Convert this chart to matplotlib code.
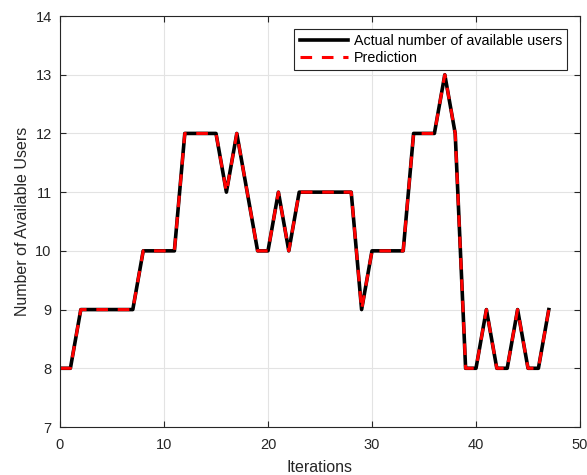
import numpy as np
import matplotlib.pyplot as plt

plt.rcParams['font.family'] = ['Liberation Sans', 'DejaVu Sans']

iterations = np.arange(0, 48)
actual = [8, 8, 9, 9, 9, 9, 9, 9, 10, 10, 10, 10, 12, 12, 12, 12,
          11, 12, 11, 10, 10, 11, 10, 11, 11, 11, 11, 11, 11, 9, 10, 10,
          10, 10, 12, 12, 12, 13, 12, 8, 8, 9, 8, 8, 9, 8, 8, 9]
prediction = list(actual)

fig = plt.figure(figsize=(5.87, 4.75), dpi=100)
ax = fig.add_axes([60 / 587, 48 / 475, 520 / 587, 411 / 475])

ax.plot(iterations, actual, color='k', lw=2.6, label='Actual number of available users')
ax.plot(iterations, prediction, color='r', lw=2.2, linestyle=(0, (3.8, 3.2)), label='Prediction')

ax.set_xlim(0, 50)
ax.set_ylim(7, 14)
ax.set_xticks(np.arange(0, 51, 10))
ax.set_yticks(np.arange(7, 15, 1))
ax.grid(True, color='#e3e3e3', lw=0.8)
ax.set_axisbelow(True)
ax.tick_params(direction='in', length=4, width=0.8, colors='#262626', labelsize=10.5,
               top=True, right=True, labelcolor='#262626')
ax.tick_params(axis='x', pad=8)
ax.tick_params(axis='y', pad=6)
for s in ax.spines.values():
    s.set_color('#262626')
    s.set_linewidth(0.8)

ax.set_xlabel('Iterations', fontsize=11.5, color='#262626', labelpad=6)
ax.set_ylabel('Number of Available Users', fontsize=11.5, color='#262626', labelpad=4)

leg = ax.legend(loc='upper right', fontsize=10.3, handlelength=3.4, borderaxespad=0.9,
                fancybox=False, framealpha=1, edgecolor='#262626',
                borderpad=0.35, labelspacing=0.2, handletextpad=0.4)
leg.get_frame().set_linewidth(0.8)

fig.savefig('out.png', dpi=100)
